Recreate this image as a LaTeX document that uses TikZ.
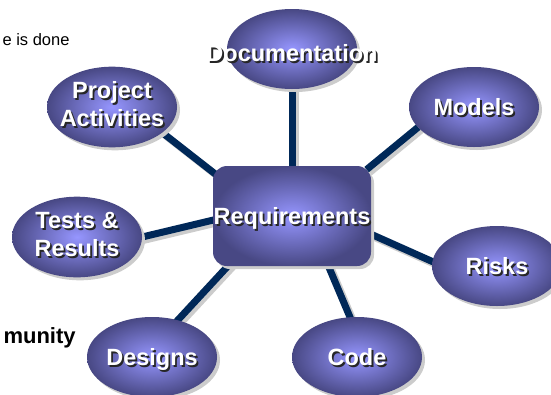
\documentclass[tikz,border=0pt]{standalone}
\usepackage{fontspec}
\setmainfont{Liberation Sans}
\usetikzlibrary{shapes.geometric,shadows,backgrounds}
\definecolor{linkcolor}{RGB}{0,40,88}
\definecolor{bubblein}{RGB}{150,150,255}
\definecolor{bubbleout}{RGB}{72,72,132}
\newcommand\shadowtext[1]{\leavevmode\rlap{\kern1.8pt\raisebox{-1.8pt}{\color{black!85}#1}}{\color{white}#1}}
\newcommand\bubbletext[1]{\makebox[0pt]{\begin{tabular}{@{}c@{}}#1\end{tabular}}}

\begin{document}
\begin{tikzpicture}[x=1pt,y=-1pt,
  bubble/.style={ellipse, minimum width=130pt, minimum height=80pt, inner sep=0pt,
    shading=radial, inner color=bubblein, outer color=bubbleout,
    drop shadow={shadow xshift=3pt, shadow yshift=-3pt, fill=black!20, opacity=1},
    font=\fontsize{23.5}{28.5}\bfseries},
  hub/.style={bubble, rectangle, rounded corners=14pt, minimum width=158pt, minimum height=100pt},
  oneline/.style={text height=17pt, text depth=0pt},
  link/.style={draw=linkcolor, line width=7pt, shorten <=-6pt, shorten >=-6pt},
  linkshadow/.style={link, draw=black!20, transform canvas={shift={(3pt,-3pt)}}}]
\useasboundingbox (0,0) rectangle (551,394);

% slide text cut at the left edge
\node[anchor=base west, font=\fontsize{16.5}{20}\selectfont] (done) at (-1,45) {e is done};
\node[anchor=base west, font=\fontsize{22}{26}\bfseries] (community) at (0,343.5) {munity};

% hub and bubbles
\node[hub, oneline] (req) at (292,216) {\makebox[0pt]{\shadowtext{Requirements}}};
\node[bubble, oneline, text height=25pt] (doc) at (292,49) {\makebox[0pt]{\shadowtext{Documentation}}};
\node[bubble, oneline] (models) at (474,107) {\makebox[0pt]{\shadowtext{Models}}};
\node[bubble] (proj) at (112,107) {\bubbletext{\shadowtext{Project}\\\shadowtext{Activities}}};
\node[bubble] (tests) at (77,237) {\bubbletext{\shadowtext{Tests \&}\\\shadowtext{Results}}};
\node[bubble, oneline] (risks) at (497,266) {\makebox[0pt]{\shadowtext{Risks}}};
\node[bubble, oneline] (code) at (357,357) {\makebox[0pt]{\shadowtext{Code}}};
\node[bubble, oneline] (designs) at (152,357) {\makebox[0pt]{\shadowtext{Designs}}};

% spokes
\begin{scope}[on background layer]
\foreach \a/\b in {doc.south/req.north, models.200/req.north east, proj.-27/req.151,
                   tests.east/req.183, risks.176/req.-13, code.100/req.-54, designs.55/req.218}{
  \draw[linkshadow] (\a) -- (\b);
  \draw[link] (\a) -- (\b);
}
\end{scope}
\end{tikzpicture}
\end{document}
